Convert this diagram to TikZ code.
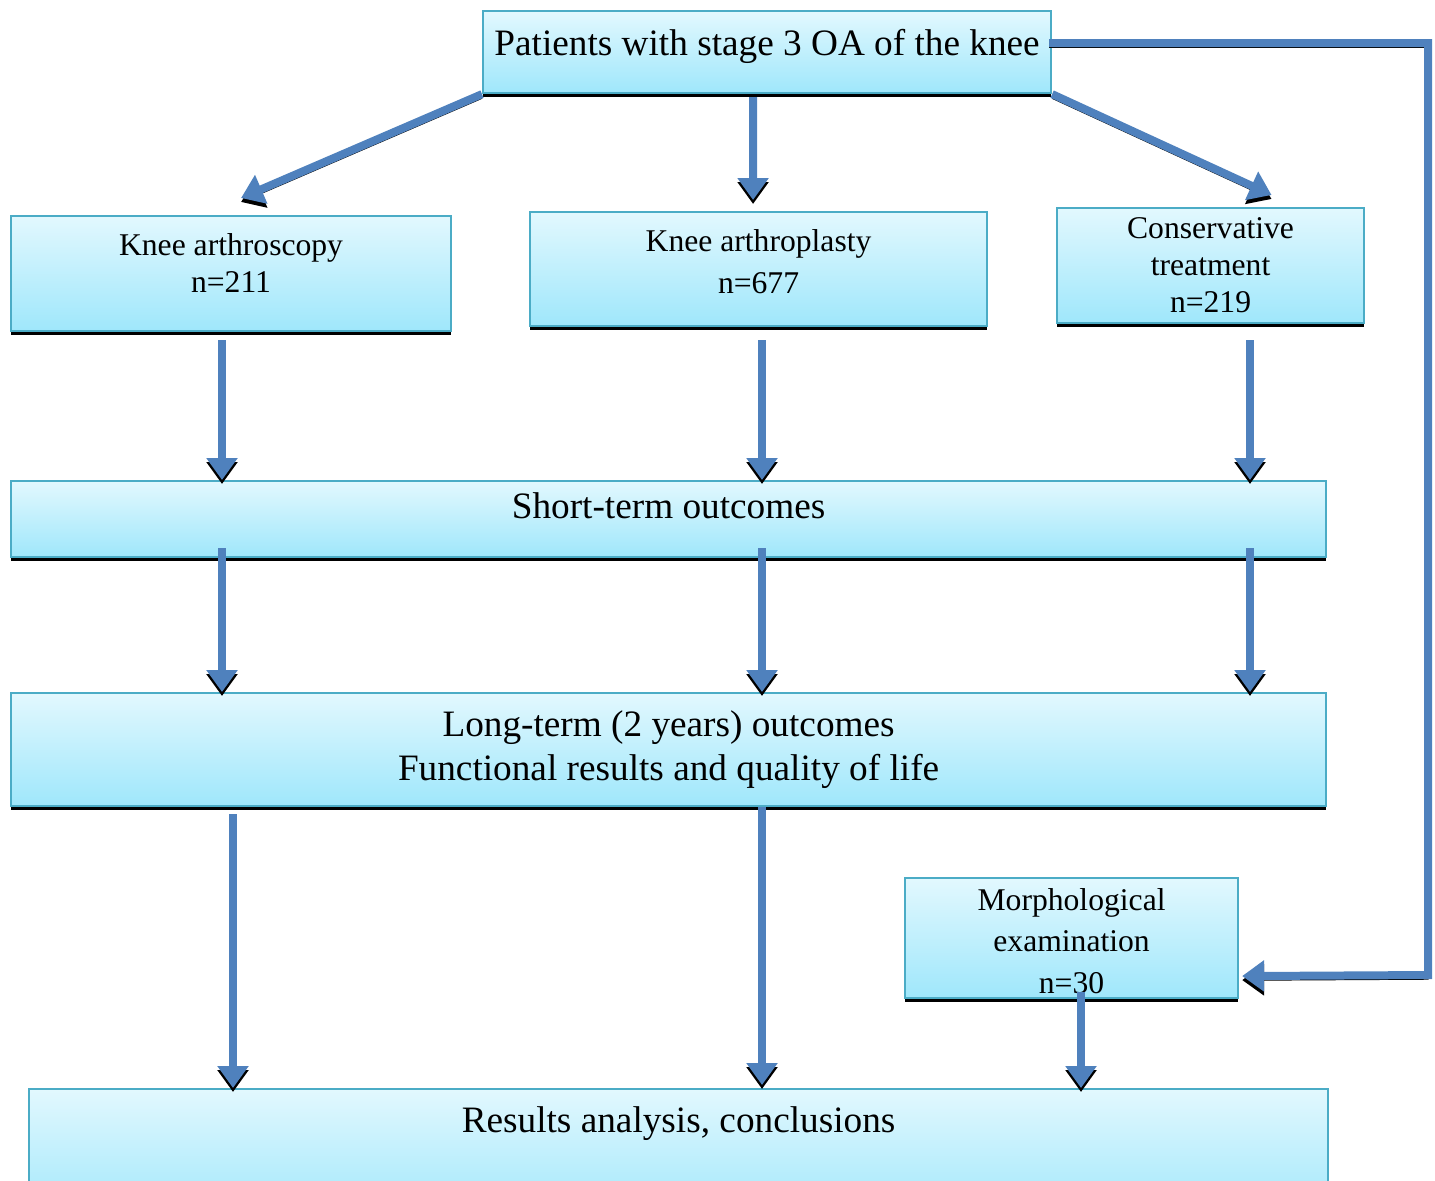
\documentclass[tikz,border=0pt]{standalone}
\usepackage{fontspec}
\setmainfont{Liberation Serif}
\usetikzlibrary{arrows.meta,shadows}
\definecolor{boxTop}{HTML}{E2F8FE}
\definecolor{boxBottom}{HTML}{9FE7FB}
\definecolor{boxLine}{HTML}{4BACC6}
\definecolor{flowBlue}{HTML}{4F81BD}
\tikzset{
  flowbox/.style={draw=boxLine, line width=0.6pt, top color=boxTop, bottom color=boxBottom,
    general shadow={fill=black, shadow yshift=-0.04cm}, inner sep=0pt, anchor=north west, align=center},
  bigtext/.style={font=\fontsize{10.6}{12.5}\selectfont},
  smalltext/.style={font=\fontsize{9}{10.5}\selectfont},
  flow/.style={draw=flowBlue, line width=0.08cm, -{Triangle[width=0.3cm,length=0.22cm]},
    preaction={draw=black, transform canvas={yshift=-0.04cm}}}
}
\begin{document}
\begin{tikzpicture}
				\useasboundingbox (0,0) rectangle (14.35,-11.8);
				% boxes (baseline of the last line sets text height)
				\node[flowbox, bigtext, minimum width=5.68cm, text height=0.44cm, text depth=0.38cm] (top) at (4.82,-0.10) {Patients with stage 3 OA of the knee};
				\node[flowbox, smalltext, minimum width=4.40cm, text height=0.76cm, text depth=0.39cm] (arsc) at (0.10,-2.15) {Knee arthroscopy\\n=211};
				\node[flowbox, smalltext, font=\fontsize{9}{11.9}\selectfont, minimum width=4.57cm, text height=0.81cm, text depth=0.33cm] (arpl) at (5.29,-2.11) {Knee arthroplasty\\n=677};
				\node[flowbox, smalltext, minimum width=3.07cm, text height=1.04cm, text depth=0.11cm] (cons) at (10.56,-2.07) {Conservative\\treatment\\n=219};
				\node[flowbox, bigtext, minimum width=13.15cm, text height=0.37cm, text depth=0.39cm] (short) at (0.10,-4.80) {Short-term outcomes};
				\node[flowbox, bigtext, minimum width=13.15cm, text height=0.87cm, text depth=0.26cm] (long) at (0.10,-6.92) {Long-term (2 years) outcomes\\Functional results and quality of life};
				\node[flowbox, smalltext, font=\fontsize{9}{11.8}\selectfont, minimum width=3.33cm, text height=1.15cm, text depth=0.05cm] (morph) at (9.04,-8.77) {Morphological\\examination\\n=30};
				\node[flowbox, bigtext, minimum width=12.99cm, text height=0.43cm, text depth=0.90cm] (res) at (0.28,-10.88) {Results analysis, conclusions};
				% columns
				\coordinate (c1) at (2.22,0);
				\coordinate (c2) at (7.62,0);
				\coordinate (c3) at (12.50,0);
				\coordinate (c4) at (2.33,0);
				\coordinate (c5) at (10.81,0);
				\coordinate (rt) at (14.28,-9.75);
				% from the top box
				\draw[flow] (top.south west) -- ([xshift=0.10cm,yshift=0.17cm]arsc.north);
				\draw[flow] ([xshift=-0.14cm,yshift=-0.03cm]top.south) -- ([xshift=-0.055cm,yshift=0.11cm]arpl.north);
				\draw[flow] (top.south east) -- ([xshift=0.61cm,yshift=0.12cm]cons.north);
				\draw[flow] ([xshift=-0.03cm,yshift=0.09cm]top.east) -| (rt) -- ([xshift=0.03cm,yshift=-0.38cm]morph.east);
				% to short-term
				\draw[flow] ([yshift=-0.08cm]arsc.south -| c1) -- (short.north -| c1);
				\draw[flow] ([yshift=-0.13cm]arpl.south -| c2) -- (short.north -| c2);
				\draw[flow] ([yshift=-0.16cm]cons.south -| c3) -- (short.north -| c3);
				% to long-term
				\draw[flow] ([yshift=0.10cm]short.south -| c1) -- (long.north -| c1);
				\draw[flow] ([yshift=0.10cm]short.south -| c2) -- (long.north -| c2);
				\draw[flow] ([yshift=0.10cm]short.south -| c3) -- (long.north -| c3);
				% to results
				\draw[flow] ([yshift=-0.07cm]long.south -| c4) -- (res.north -| c4);
				\draw[flow] (long.south -| c2) -- ([yshift=0.03cm]res.north -| c2);
				\draw[flow] ([yshift=0.07cm]morph.south -| c5) -- (res.north -| c5);
\end{tikzpicture}
\end{document}
